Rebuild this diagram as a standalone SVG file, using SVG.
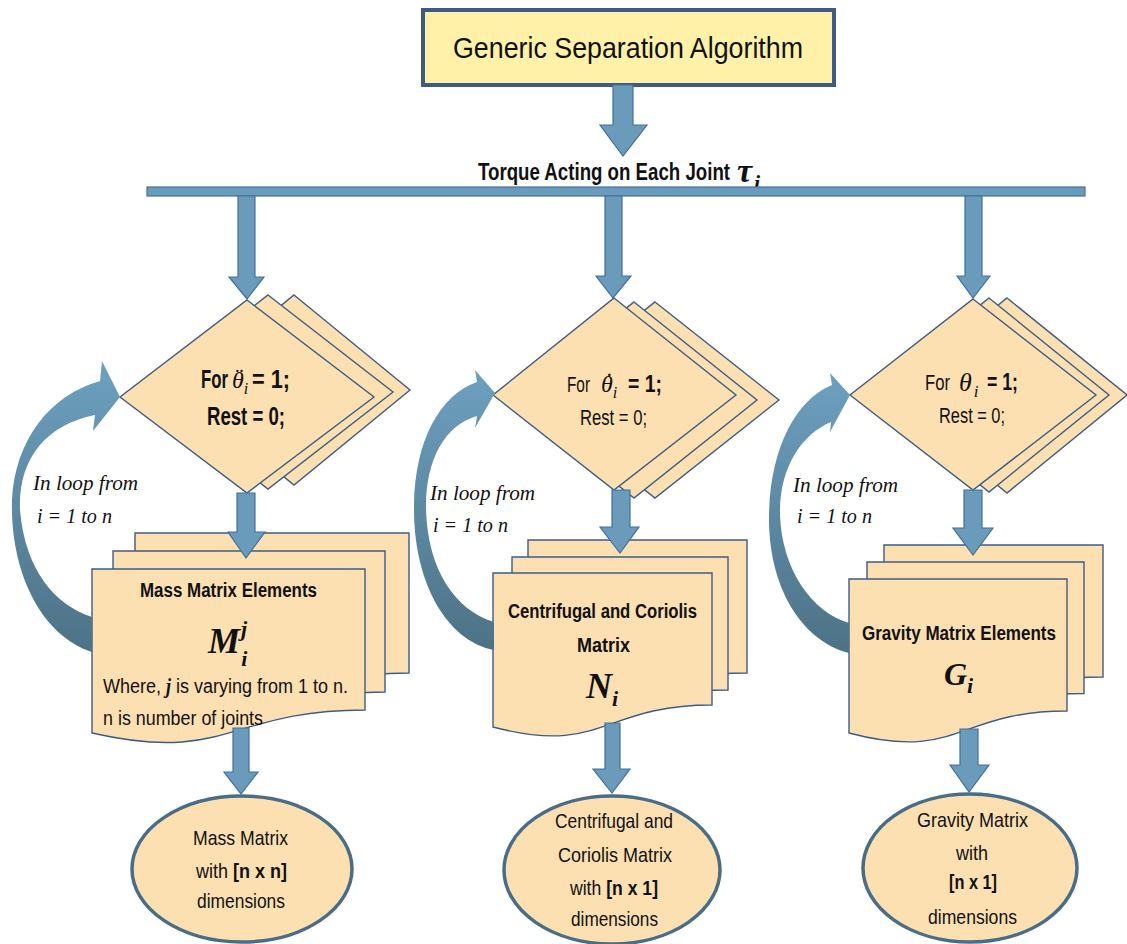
<svg xmlns="http://www.w3.org/2000/svg" width="1127" height="944" viewBox="0 0 1127 944">
<defs>
<style>
.node{fill:#FDE0B1;stroke:#3E5C85;stroke-width:1.4}
.ell{fill:#FDE0B1;stroke:#4A6D87;stroke-width:3.5}
.arr{fill:#6A9BBB;stroke:#41719C;stroke-width:1.2}
.loop{fill:url(#lg)}
.s{font-family:"Liberation Sans",Arial,sans-serif;fill:#111}
.b{font-weight:bold}
.m{font-family:"Liberation Serif","Times New Roman",serif;font-style:italic;fill:#111}
.mb{font-family:"Liberation Serif","Times New Roman",serif;font-style:italic;font-weight:bold;fill:#111}
</style>
<linearGradient id="lg" x1="0" y1="0" x2="0" y2="1">
<stop offset="0" stop-color="#6DA0C0"/>
<stop offset="1" stop-color="#4D7286"/>
</linearGradient>
</defs>
<rect width="1127" height="944" fill="#fff"/>

<g id="title">
<rect x="423" y="10" width="411" height="75" fill="#FFF1A8" stroke="#3F5B85" stroke-width="4"/>
<text class="s" x="453" y="58" font-size="29" textLength="350" lengthAdjust="spacingAndGlyphs">Generic Separation Algorithm</text>
</g>

<g id="torque">
<text class="s b" x="478" y="180" font-size="23" textLength="252" lengthAdjust="spacingAndGlyphs">Torque Acting on Each Joint</text>
<text class="mb" x="737" y="182" font-size="34">τ<tspan dx="2" dy="8" font-size="22">i</tspan></text>
</g>

<g id="diamond-left">
<polygon class="node" points="294,295 410,390 294,485 178,390"/>
<polygon class="node" points="268,295 393,392 268,489 143,392"/>
<polygon class="node" points="247,300 374,397 247,493 120,397"/>
<text class="s b" x="201" y="388" font-size="25" textLength="27" lengthAdjust="spacingAndGlyphs">For</text>
<text class="m" x="232" y="388" font-size="24">θ<tspan dx="-10" dy="-3">¨</tspan><tspan dx="2" dy="9" font-size="16">i</tspan></text>
<text class="s b" x="252" y="388" font-size="25" textLength="38" lengthAdjust="spacingAndGlyphs">= 1;</text>
<text class="s b" x="207" y="425" font-size="25" textLength="78" lengthAdjust="spacingAndGlyphs">Rest = 0;</text>
</g>

<g id="diamond-middle">
<polygon class="node" points="655,302 779,400 655,498 531,400"/>
<polygon class="node" points="634,302 757,400 634,498 511,400"/>
<polygon class="node" points="614,298 736,395 614,490 493,395"/>
<text class="s" x="567" y="392" font-size="22" textLength="23" lengthAdjust="spacingAndGlyphs">For</text>
<text class="m" x="601" y="392" font-size="24">θ<tspan dx="-9" dy="-3">˙</tspan><tspan dx="1" dy="9" font-size="16">i</tspan></text>
<text class="s b" x="628" y="392" font-size="24" textLength="34" lengthAdjust="spacingAndGlyphs">= 1;</text>
<text class="s" x="580" y="425" font-size="22" textLength="67" lengthAdjust="spacingAndGlyphs">Rest = 0;</text>
</g>

<g id="diamond-right">
<polygon class="node" points="1007,298 1127,395 1007,493 887,395"/>
<polygon class="node" points="989,298 1109,395 989,492 869,395"/>
<polygon class="node" points="973,299 1096,395 973,490 850,395"/>
<text class="s" x="925" y="390" font-size="22" textLength="25" lengthAdjust="spacingAndGlyphs">For</text>
<text class="m" x="959" y="391" font-size="26">θ<tspan dx="2" dy="6" font-size="17">i</tspan></text>
<text class="s b" x="987" y="390" font-size="24" textLength="31" lengthAdjust="spacingAndGlyphs">= 1;</text>
<text class="s" x="939" y="423" font-size="22" textLength="66" lengthAdjust="spacingAndGlyphs">Rest = 0;</text>
</g>

<g id="doc-left">
<path class="node" d="M135,533 H409 V673 C272,673 272,727 135,696.5 Z"/>
<path class="node" d="M113,551 H385 V692 C249,692 249,746 113,715 Z"/>
<path class="node" d="M92,569 H365 V710 C228.5,710 228.5,764 92,733 Z"/>
<text class="s b" x="140" y="597" font-size="20" textLength="177" lengthAdjust="spacingAndGlyphs">Mass Matrix Elements</text>
<text class="mb" x="208" y="653" font-size="36">M<tspan dx="1" dy="-17" font-size="22">j</tspan><tspan dx="-6" dy="30" font-size="22">i</tspan></text>
<text class="s" x="103" y="693" font-size="20" textLength="245" lengthAdjust="spacingAndGlyphs">Where, <tspan class="mb">j</tspan> is varying from 1 to n.</text>
<text class="s" x="103" y="725" font-size="20" textLength="160" lengthAdjust="spacingAndGlyphs">n is number of joints</text>
</g>

<g id="doc-middle">
<path class="node" d="M528,540 H747 V673 C637.5,673 637.5,724 528,695 Z"/>
<path class="node" d="M512,557 H728 V690 C620,690 620,741 512,712 Z"/>
<path class="node" d="M493,573 H712 V705 C602.5,705 602.5,756 493,727 Z"/>
<text class="s b" x="508" y="618" font-size="20" textLength="189" lengthAdjust="spacingAndGlyphs">Centrifugal and Coriolis</text>
<text class="s b" x="577" y="652" font-size="20" textLength="53" lengthAdjust="spacingAndGlyphs">Matrix</text>
<text class="mb" x="586" y="698" font-size="36">N<tspan dx="0" dy="8" font-size="22">i</tspan></text>
</g>

<g id="doc-right">
<path class="node" d="M884,545 H1103 V677 C993.5,677 993.5,728 884,699 Z"/>
<path class="node" d="M867,562 H1084 V693.5 C975.5,693.5 975.5,744 867,715 Z"/>
<path class="node" d="M849,579 H1067 V711 C958,711 958,762 849,733 Z"/>
<text class="s b" x="862" y="640" font-size="20" textLength="194" lengthAdjust="spacingAndGlyphs">Gravity Matrix Elements</text>
<text class="mb" x="944" y="685" font-size="32">G<tspan dx="0" dy="8" font-size="22">i</tspan></text>
</g>

<g id="result-left">
<ellipse class="ell" cx="242" cy="869" rx="110" ry="73"/>
<text class="s" x="193" y="845" font-size="21" textLength="95" lengthAdjust="spacingAndGlyphs">Mass Matrix</text>
<text class="s" x="196" y="878" font-size="21" textLength="91" lengthAdjust="spacingAndGlyphs">with <tspan class="b">[n x n]</tspan></text>
<text class="s" x="197" y="908" font-size="21" textLength="88" lengthAdjust="spacingAndGlyphs">dimensions</text>
</g>

<g id="result-middle">
<ellipse class="ell" cx="612" cy="870" rx="108" ry="74"/>
<text class="s" x="555" y="828" font-size="21" textLength="118" lengthAdjust="spacingAndGlyphs">Centrifugal and</text>
<text class="s" x="558" y="862" font-size="21" textLength="114" lengthAdjust="spacingAndGlyphs">Coriolis Matrix</text>
<text class="s" x="570" y="895" font-size="21" textLength="88" lengthAdjust="spacingAndGlyphs">with <tspan class="b">[n x 1]</tspan></text>
<text class="s" x="571" y="926" font-size="21" textLength="87" lengthAdjust="spacingAndGlyphs">dimensions</text>
</g>

<g id="result-right">
<ellipse class="ell" cx="970" cy="868" rx="107" ry="74"/>
<text class="s" x="917" y="827" font-size="21" textLength="111" lengthAdjust="spacingAndGlyphs">Gravity Matrix</text>
<text class="s" x="956" y="860" font-size="21" textLength="32" lengthAdjust="spacingAndGlyphs">with</text>
<text class="s b" x="949" y="889" font-size="21" textLength="48" lengthAdjust="spacingAndGlyphs">[n x 1]</text>
<text class="s" x="928" y="924" font-size="21" textLength="89" lengthAdjust="spacingAndGlyphs">dimensions</text>
</g>

<g id="connectors">
<polygon class="arr" points="613,85 633,85 633,125 647,125 623,156 600,125 613,125"/>
<rect class="arr" x="147" y="187" width="938" height="9"/>
<polygon class="arr" points="238,196 255,196 255,277 264,277 247,299 229,277 238,277"/>
<polygon class="arr" points="605,196 622,196 622,276 631,276 613,298 596,276 605,276"/>
<polygon class="arr" points="965,196 982,196 982,276 990,276 973,298 957,276 965,276"/>
<polygon class="arr" points="237,493 255,493 255,532 265,532 246,558 228,532 237,532"/>
<polygon class="arr" points="612,490 630,490 630,527 639,527 620,553 600,527 612,527"/>
<polygon class="arr" points="964,490 982,490 982,528 993,528 973,555 953,528 964,528"/>
<polygon class="arr" points="233,728 249,728 249,772 258,772 241,794 224,772 233,772"/>
<polygon class="arr" points="605,723 620,723 620,769 630,769 612,793 593,769 605,769"/>
<polygon class="arr" points="960,729 978,729 978,765 989,765 969,792 950,765 960,765"/>
<path class="loop" d="M100,381 C50,395 15,440 12,500 C10,570 40,635 92,652 L92,617 C55,605 25,570 20,510 C18,460 45,425 95,415 L93,431 L120,397 L102,361 Z"/>
<path class="loop" d="M477,382 C440,395 415,440 414,505 C413,580 445,640 494,650 L494,622 C455,610 428,570 426,510 C425,460 445,425 477,416 L475,428 L495,393 L475,370 Z"/>
<path class="loop" d="M832,385 C795,400 770,450 769,515 C768,585 800,640 849,653 L849,623 C812,612 782,570 780,515 C779,470 800,435 831,422 L830,432 L850,395 L830,373 Z"/>
</g>

<g id="loop-labels">
<text class="m" x="33" y="490" font-size="22" textLength="105" lengthAdjust="spacingAndGlyphs">In loop from</text>
<text class="m" x="37" y="523" font-size="22" textLength="75" lengthAdjust="spacingAndGlyphs">i = 1 to n</text>
<text class="m" x="430" y="500" font-size="22" textLength="105" lengthAdjust="spacingAndGlyphs">In loop from</text>
<text class="m" x="433" y="532" font-size="22" textLength="75" lengthAdjust="spacingAndGlyphs">i = 1 to n</text>
<text class="m" x="793" y="492" font-size="22" textLength="105" lengthAdjust="spacingAndGlyphs">In loop from</text>
<text class="m" x="797" y="523" font-size="22" textLength="75" lengthAdjust="spacingAndGlyphs">i = 1 to n</text>
</g>
</svg>
